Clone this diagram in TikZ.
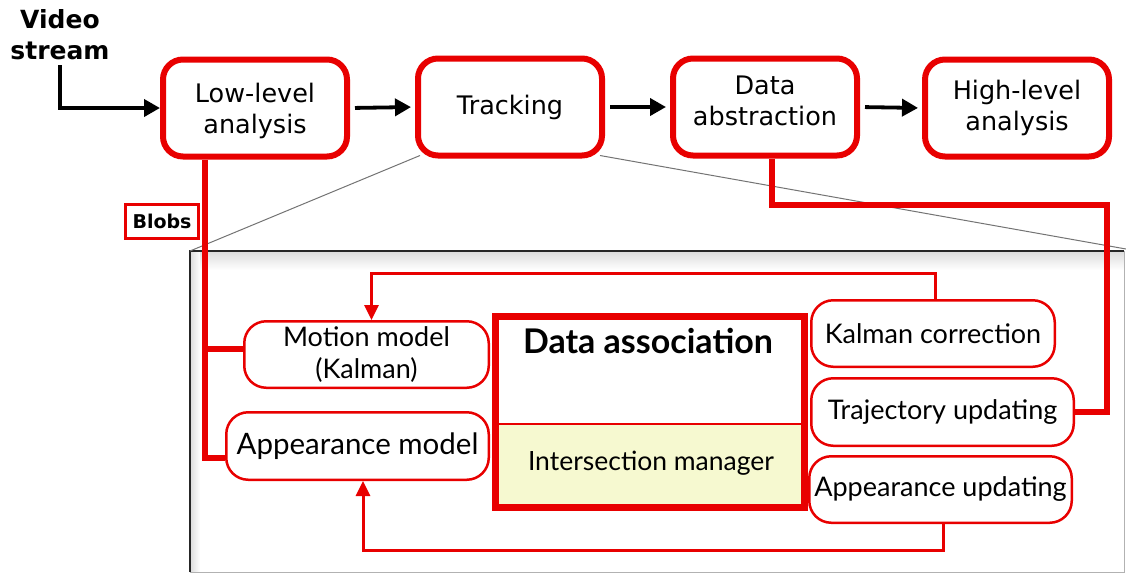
\documentclass[tikz,border=0pt]{standalone}
\usepackage{fontspec}
\setmainfont{DejaVu Sans}
\newfontfamily\gill{Lato}
\usetikzlibrary{arrows.meta,backgrounds}
\definecolor{accent}{RGB}{232,0,0}
\definecolor{pale}{RGB}{246,249,208}

\begin{document}
\begin{tikzpicture}[x=1pt,y=-1pt,
  stage/.style={draw=accent, line width=6pt, rounded corners=20pt, fill=white,
    minimum width=184pt, minimum height=97pt, inner sep=0pt},
  stagetext/.style={align=center, font=\fontsize{25.5}{31}\selectfont},
  part/.style={draw=accent, line width=2.5pt, rounded corners=22pt, fill=white,
    align=center, inner sep=0pt, font=\gill\fontsize{27}{32}\selectfont},
  flow/.style={line width=3.8pt, -{Triangle[length=16pt,width=17pt]},
    shorten <=5pt, shorten >=4pt},
  feed/.style={draw=accent, line width=6pt},
  loop/.style={draw=accent, line width=3pt, -{Triangle[length=15pt,width=14pt]}},
  zoomline/.style={draw=black!55, line width=1pt}]

\useasboundingbox (0,0) rectangle (1126,574);

\coordinate (pl) at (190,251);
\coordinate (pr) at (1126,249);
\coordinate (tap) at (205,0);
\coordinate (elbow) at (1107,205);
\coordinate (topy) at (0,273);
\coordinate (boty) at (0,550);

% pipeline stages
\node[stage, label={[stagetext, yshift=-3pt]center:Low-level\\analysis}] (low) at (255,108) {};
\node[stage, label={[stagetext]center:Tracking}] (track) at (510,107) {};
\node[stage, label={[stagetext, yshift=6pt]center:Data\\abstraction}] (abs) at (765,107) {};
\node[stage, label={[stagetext]center:High-level\\analysis}] (high) at (1017,108) {};

\node[align=center, inner sep=0pt, font=\bfseries\fontsize{25}{31}\selectfont]
  (vs) at (60,35) {Video\\stream};

\begin{scope}[on background layer]
  % zoomed-in panel with a soft inner shadow
  \fill[white] (190,251) rectangle (1124,572);
  \shade[top color=black!14, bottom color=white] (190,251) rectangle (1124,270);
  \shade[left color=black!14, right color=white] (190,251) rectangle (200,572);
  \draw[black!30, line width=1pt] (1124,251) -- (1124,572) -- (190,572);
  \draw[black!85, line width=1.3pt] (190,572) -- (190,251) -- (1124,251);
  % zoom guides from the tracking stage to the panel
  \draw[zoomline] ([shift={(5pt,3pt)}]track.south west) -- (pl);
  \draw[zoomline] ([shift={(-5pt,3pt)}]track.south east) -- (pr);
\end{scope}

% arrows between stages
\draw[flow] (vs.south) -- (vs.south |- low.west) -- ([xshift=4pt]low.west);
\draw[flow] (low.east) -- (track.west);
\draw[flow] (track.east) -- (abs.west);
\draw[flow] (abs.east) -- (high.west);

% inner modules
\node[part, minimum width=244.5pt, minimum height=66.5pt] (motion) at (366.5,354.5) {Motion model\\(Kalman)};
\node[part, minimum width=262.5pt, minimum height=67.5pt, font=\gill\fontsize{29.5}{32}\selectfont] (appm) at (357.5,446) {Appearance model};
\node[part, minimum width=243.5pt, minimum height=66.5pt] (kal)    at (933,333.5) {Kalman correction};
\node[part, minimum width=262.5pt, minimum height=67.5pt] (traj)   at (942.5,412) {Trajectory updating};
\node[part, minimum width=262.5pt, minimum height=66.5pt] (appu)   at (940.5,489.5) {Appearance updating};

% data association block
\node[fill=white, outer sep=0pt, minimum width=309pt, minimum height=191pt] (da) at (650,412) {};
\coordinate (sep) at (0,424);
\fill[pale] (da.west |- sep) rectangle (da.south east);
\draw[accent, line width=2pt] (da.west |- sep) -- (da.east |- sep);
\draw[accent, line width=7pt] (da.north west) rectangle (da.south east);
\node[font=\gill\bfseries\fontsize{34}{38}\selectfont] (datitle) at (648,341) {Data association};
\node[font=\gill\fontsize{26.5}{30}\selectfont] (inter) at (651,463) {Intersection manager};

% blobs label and its feed into the models
\node[draw=accent, line width=3pt, minimum width=73pt, minimum height=34pt, inner sep=0pt,
  font=\bfseries\fontsize{19}{21}\selectfont] (blobs) at (162,221.5) {Blobs};
\draw[feed] (low.south -| tap) -- ([yshift=-12pt]tap |- appm.west) -- ([yshift=-12pt]appm.west);
\draw[feed] ([yshift=6pt]tap |- motion.west) -- ([yshift=6pt]motion.west);

% trajectories back to data abstraction
\draw[feed] ([xshift=7pt]abs.south) -- ([xshift=7pt]abs.south |- elbow) -- (elbow) -- (elbow |- traj.east) -- (traj.east);

% feedback loops
\draw[loop] ([xshift=2pt]kal.north) -- ([xshift=2pt]kal.north |- topy) -- ([xshift=5pt]motion.north |- topy) -- ([xshift=5pt]motion.north);
\draw[loop] ([xshift=2.5pt]appu.south) -- ([xshift=2.5pt]appu.south |- boty) -- ([xshift=5.5pt]appm.south |- boty) -- ([xshift=5.5pt]appm.south);

\end{tikzpicture}
\end{document}
